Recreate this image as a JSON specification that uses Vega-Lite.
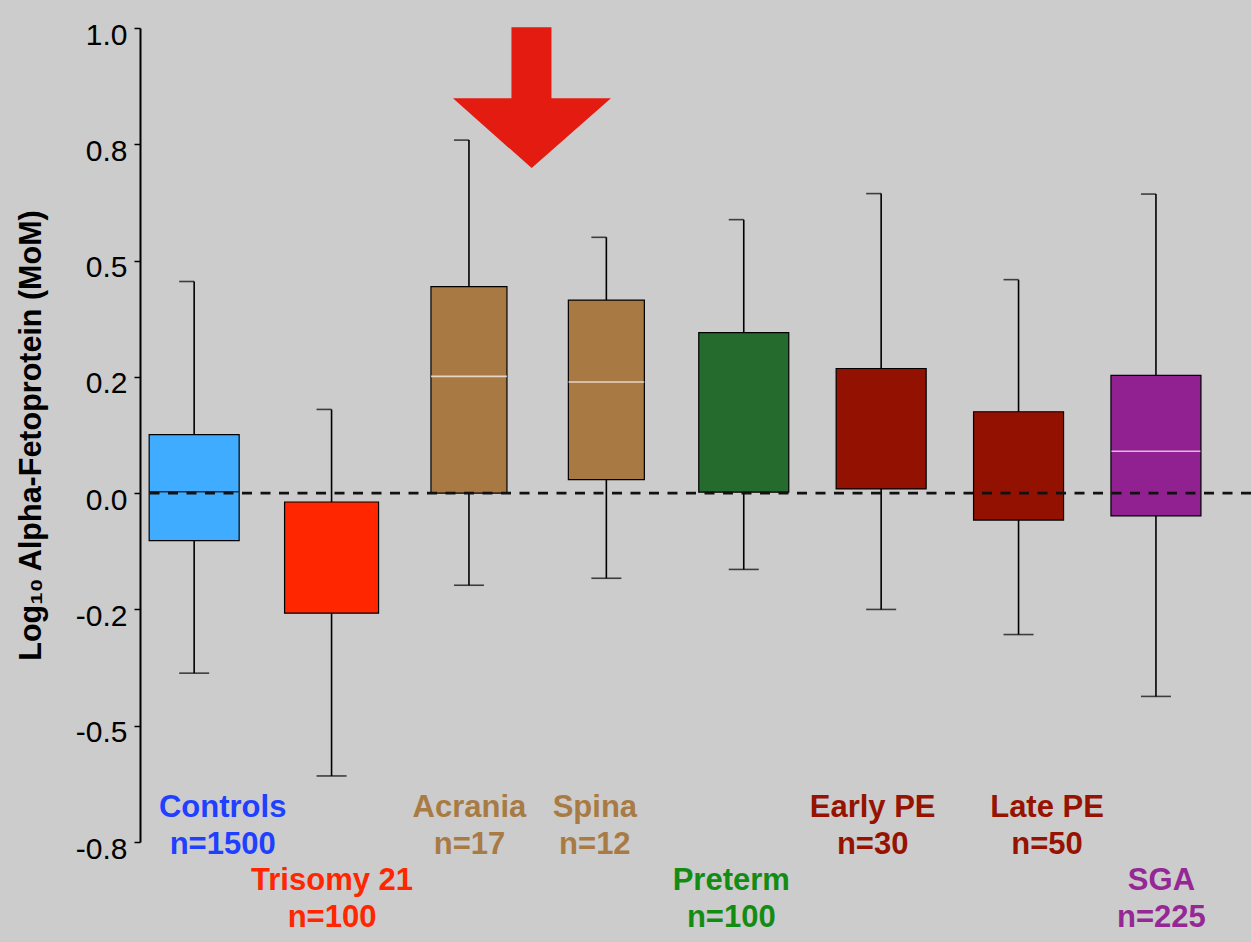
{
  "$schema": "https://vega.github.io/schema/vega-lite/v6.json",
  "width": 1111,
  "height": 814,
  "autosize": "none",
  "padding": {"left": 140, "top": 28, "right": 0, "bottom": 100},
  "background": "#cccccc",
  "config": {"view": {"stroke": null}, "font": "Liberation Sans"},
  "data": {
    "values": [
      {"group": "Controls", "n": 1500, "lo": -0.387, "q1": -0.102, "median": 0.003, "q3": 0.126, "hi": 0.455},
      {"group": "Trisomy 21", "n": 100, "lo": -0.608, "q1": -0.258, "median": null, "q3": -0.019, "hi": 0.18},
      {"group": "Acrania", "n": 17, "lo": -0.198, "q1": 0.0, "median": 0.251, "q3": 0.444, "hi": 0.759},
      {"group": "Spina", "n": 12, "lo": -0.183, "q1": 0.029, "median": 0.239, "q3": 0.415, "hi": 0.55},
      {"group": "Preterm", "n": 100, "lo": -0.164, "q1": 0.002, "median": null, "q3": 0.345, "hi": 0.588},
      {"group": "Early PE", "n": 30, "lo": -0.25, "q1": 0.009, "median": null, "q3": 0.268, "hi": 0.644},
      {"group": "Late PE", "n": 50, "lo": -0.304, "q1": -0.058, "median": null, "q3": 0.175, "hi": 0.459},
      {"group": "SGA", "n": 225, "lo": -0.437, "q1": -0.049, "median": 0.09, "q3": 0.253, "hi": 0.643}
    ]
  },
  "transform": [{"calculate": "datum.group + '|n=' + datum.n", "as": "key"}],
  "layer": [
    {
      "mark": {"type": "rule", "color": "black", "strokeWidth": 1.6},
      "encoding": {
        "x": {
          "field": "key", "type": "nominal", "sort": null,
          "scale": {
            "type": "point", "padding": 0.543, "align": 0.363,
            "domain": ["Controls|n=1500", "Trisomy 21|n=100", "Acrania|n=17", "Spina|n=12", "Preterm|n=100", "Early PE|n=30", "Late PE|n=50", "SGA|n=225"]
          },
          "axis": {
            "orient": "bottom", "title": null, "domain": false, "ticks": false, "tickSize": 0,
            "labelAngle": 0, "labelFont": "Liberation Sans", "labelFontSize": 31, "labelFontWeight": "bold",
            "labelLineHeight": 37, "labelBaseline": "alphabetic", "labelAlign": "center",
            "labelOverlap": false, "labelBound": false, "labelFlush": false,
            "labelExpr": "split(datum.value,'|')",
            "labelPadding": {
              "condition": {"test": "indexof(datum.value,'Trisomy')==0 || indexof(datum.value,'Preterm')==0 || indexof(datum.value,'SGA')==0", "value": 47},
              "value": -26
            },
            "labelColor": {
              "condition": [
                {"test": "indexof(datum.value,'Controls')==0", "value": "#1F40FF"},
                {"test": "indexof(datum.value,'Trisomy')==0", "value": "#FF2600"},
                {"test": "indexof(datum.value,'Acrania')==0 || indexof(datum.value,'Spina')==0", "value": "#A87B45"},
                {"test": "indexof(datum.value,'Preterm')==0", "value": "#148C14"},
                {"test": "indexof(datum.value,'SGA')==0", "value": "#952895"}
              ],
              "value": "#951300"
            },
            "labelOffset": {
              "condition": [
                {"test": "indexof(datum.value,'Controls')==0", "value": 28},
                {"test": "indexof(datum.value,'Spina')==0", "value": -12},
                {"test": "indexof(datum.value,'Preterm')==0", "value": -13},
                {"test": "indexof(datum.value,'Early')==0", "value": -9},
                {"test": "indexof(datum.value,'Late')==0", "value": 28},
                {"test": "indexof(datum.value,'SGA')==0", "value": 5}
              ],
              "value": 0
            }
          }
        },
        "y": {
          "field": "lo", "type": "quantitative",
          "scale": {"domain": [-0.75, 1.0], "nice": false, "zero": false},
          "axis": {
            "values": [1, 0.75, 0.5, 0.25, 0, -0.25, -0.5, -0.75],
            "labelExpr": "datum.value==1?'1.0':datum.value==0.75?'0.8':datum.value==0.5?'0.5':datum.value==0.25?'0.2':datum.value==0?'0.0':datum.value==-0.25?'-0.2':datum.value==-0.5?'-0.5':'-0.8'",
            "grid": false, "domainColor": "black", "domainWidth": 2,
            "tickColor": "black", "tickWidth": 1.5, "tickSize": 6,
            "labelPadding": 7, "labelOffset": 7, "labelFontSize": 30, "labelColor": "black", "labelFont": "Liberation Sans",
            "labelFlush": false, "labelOverlap": false,
            "title": "Log₁₀ Alpha-Fetoprotein (MoM)", "titleFont": "Liberation Sans", "titleFontSize": 30.5,
            "titleFontWeight": "bold", "titleColor": "black", "titlePadding": 29
          }
        },
        "y2": {"field": "hi"}
      }
    },
    {
      "mark": {"type": "tick", "color": "black", "thickness": 1.6, "size": 15, "xOffset": -7.5},
      "encoding": {
        "x": {"field": "key", "type": "nominal", "sort": null},
        "y": {"field": "hi", "type": "quantitative"}
      }
    },
    {
      "mark": {"type": "tick", "color": "black", "thickness": 1.6, "size": 30},
      "encoding": {
        "x": {"field": "key", "type": "nominal", "sort": null},
        "y": {"field": "lo", "type": "quantitative"}
      }
    },
    {
      "mark": {"type": "bar", "stroke": "black", "strokeWidth": 1.2, "opacity": 1},
      "encoding": {
        "x": {"field": "key", "type": "nominal", "sort": null},
        "y": {"field": "q1", "type": "quantitative"},
        "y2": {"field": "q3"},
        "color": {
          "field": "group", "type": "nominal", "legend": null,
          "scale": {
            "domain": ["Controls", "Trisomy 21", "Acrania", "Spina", "Preterm", "Early PE", "Late PE", "SGA"],
            "range": ["#40ACFF", "#FF2600", "#A87943", "#A87943", "#256B2E", "#921100", "#921100", "#912090"]
          }
        },
        "size": {
          "condition": [
            {"test": "datum.group=='Acrania' || datum.group=='Spina'", "value": 76},
            {"test": "datum.group=='Trisomy 21'", "value": 94}
          ],
          "value": 90
        }
      }
    },
    {
      "transform": [{"filter": "datum.median != null"}],
      "mark": {"type": "tick", "thickness": 1.6},
      "encoding": {
        "x": {"field": "key", "type": "nominal", "sort": null},
        "y": {"field": "median", "type": "quantitative"},
        "color": {
          "condition": {"test": "datum.group=='Controls'", "value": "black"},
          "value": "white"
        },
        "size": {
          "condition": {"test": "datum.group=='Acrania' || datum.group=='Spina'", "value": 76},
          "value": 89
        }
      }
    },
    {
      "data": {"values": [{}]},
      "mark": {"type": "rule", "color": "#111111", "strokeWidth": 2.6, "strokeDash": [10, 8.5]},
      "encoding": {"y": {"datum": 0}}
    },
    {
      "data": {"values": [{}]},
      "mark": {
        "type": "point", "filled": true, "opacity": 1, "color": "#E31B11", "strokeWidth": 0, "size": 40000,
        "shape": "M0.425,-0.704 L0.825,-0.704 L0.825,0.006 L1.42,0.006 L0.627,0.703 L-0.16,0.006 L0.425,0.006 Z"
      },
      "encoding": {
        "x": {"datum": "Acrania|n=17"},
        "y": {"datum": 0.85}
      }
    }
  ]
}
